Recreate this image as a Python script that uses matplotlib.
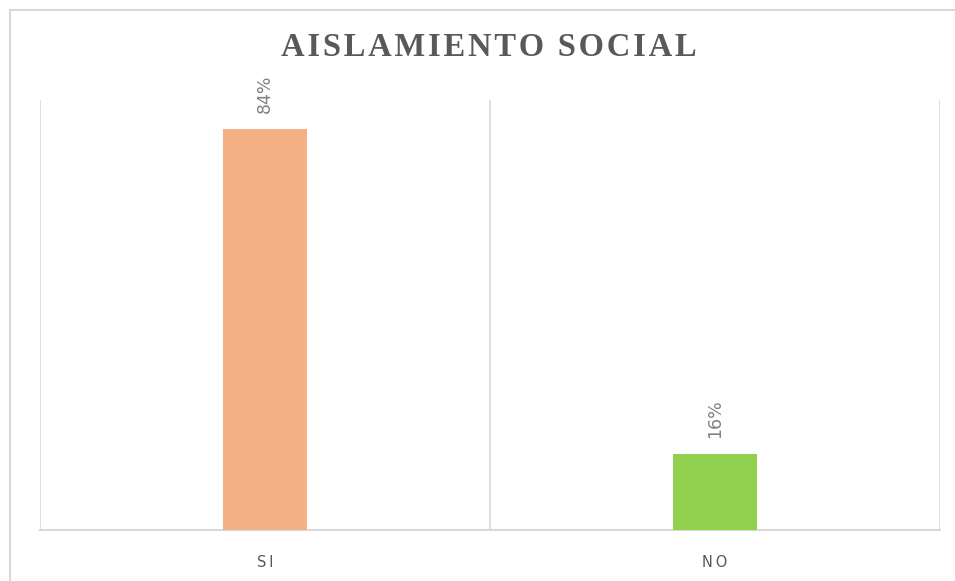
import matplotlib
matplotlib.use("Agg")
import matplotlib.pyplot as plt
from matplotlib.patches import Rectangle

categories = ["SI", "NO"]
values = [0.84, 0.16]
labels = ["84%", "16%"]
colors = ["#F4B183", "#92D050"]
title = "AISLAMIENTO SOCIAL"

fig = plt.figure(figsize=(9.55, 5.81), dpi=100)
fig.patch.set_facecolor("white")

# outer chart border (top and left visible)
fig.add_artist(Rectangle((10 / 955, -0.05), 1.2, 1 - 10 / 581 + 0.05,
                         transform=fig.transFigure, fill=False,
                         edgecolor="#d9d9d9", linewidth=1.5))

ax = fig.add_axes([40 / 955, 51 / 581, 900 / 955, 430 / 581])
x = list(range(len(categories)))
ax.bar(x, values, width=0.187, color=colors, zorder=3)
ax.set_xlim(-0.5, len(categories) - 0.5)
ax.set_ylim(0, 0.9)

for b in [i - 0.5 for i in range(len(categories) + 1)]:
    ax.axvline(b, color="#d9d9d9", linewidth=1.2, zorder=1)

for s in ["top", "left", "right"]:
    ax.spines[s].set_visible(False)
ax.spines["bottom"].set_color("#d9d9d9")
ax.spines["bottom"].set_linewidth(1.5)
ax.set_yticks([])
ax.set_xticks(x)
ax.set_xticklabels(["\u2009".join(c) for c in categories], color="#595959",
                   fontsize=10.5, family="DejaVu Sans")
ax.tick_params(axis="x", length=0, pad=18)

for xi, v, lab in zip(x, values, labels):
    ax.annotate(lab, (xi, v), xytext=(0, 11), textcoords="offset points",
                rotation=90, ha="center", va="bottom", color="#808080",
                fontsize=12.5)

fig.text(489 / 955, 1 - 48 / 581, "\u200a".join(title), ha="center", va="center",
         family=["Liberation Serif", "DejaVu Serif"], fontweight="bold", fontsize=23.5,
         color="#595959")

fig.savefig("out.png", dpi=100)
